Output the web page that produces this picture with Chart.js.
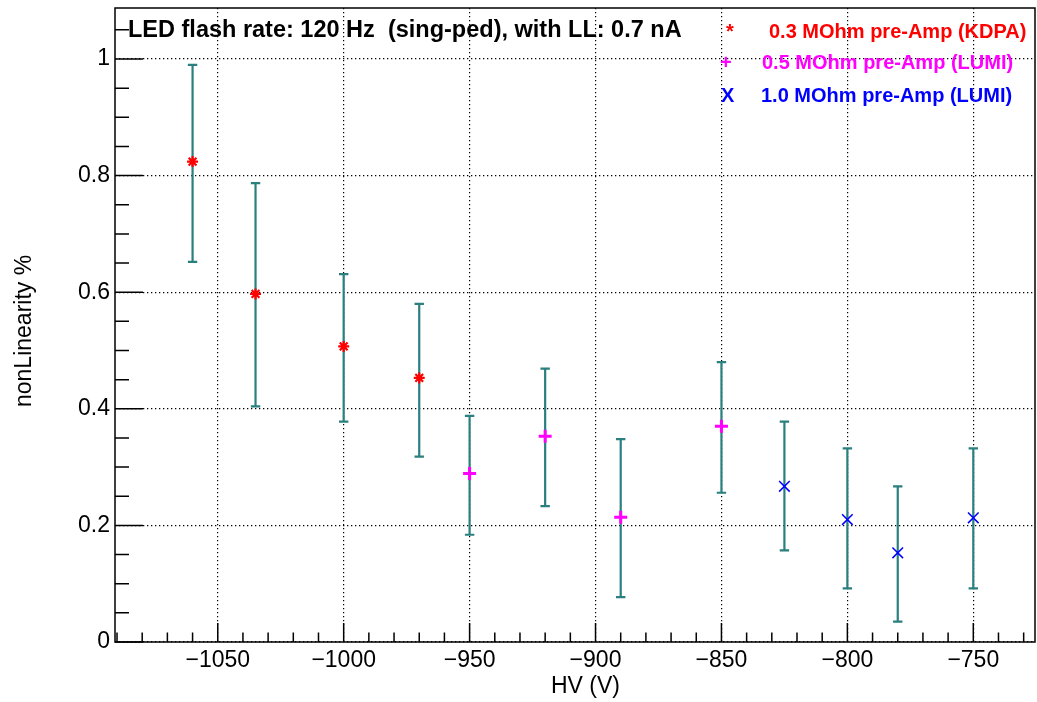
<!DOCTYPE html>
<html><head><meta charset="utf-8">
<script src="https://cdn.jsdelivr.net/npm/chart.js@4"></script>
<style>html,body{margin:0;padding:0;background:#fff;overflow:hidden;} canvas{display:block;}</style>
</head><body>
<canvas id="c" width="1037" height="702"></canvas>
<script>
// ---- data ----
const hvKDPA = [-1060, -1035, -1000, -970];
const nlKDPA = [0.824, 0.597, 0.507, 0.453];
const loKDPA = [0.652, 0.404, 0.378, 0.318];
const hiKDPA = [0.990, 0.787, 0.631, 0.580];

const hvLUMI05 = [-950, -920, -890, -850];
const nlLUMI05 = [0.289, 0.353, 0.214, 0.370];
const loLUMI05 = [0.184, 0.233, 0.077, 0.256];
const hiLUMI05 = [0.388, 0.469, 0.348, 0.480];

const hvLUMI10 = [-825, -800, -780, -750];
const nlLUMI10 = [0.267, 0.210, 0.153, 0.213];
const loLUMI10 = [0.157, 0.092, 0.035, 0.092];
const hiLUMI10 = [0.378, 0.332, 0.267, 0.332];

const xTickValues = [-1050, -1000, -950, -900, -850, -800, -750];
const xTickLabels = ['\u22121050', '\u22121000', '\u2212950', '\u2212900', '\u2212850', '\u2212800', '\u2212750'];
const yTickValues = [0, 0.2, 0.4, 0.6, 0.8, 1];
const yTickLabels = ['0', '0.2', '0.4', '0.6', '0.8', '1'];

const seriesNames = ['0.3 MOhm pre-Amp (KDPA)', '0.5 MOhm pre-Amp (LUMI)', '1.0 MOhm pre-Amp (LUMI)'];
const seriesSymbols = ['*', '+', 'X'];
const titleText = 'LED flash rate: 120 Hz  (sing-ped), with LL: 0.7 nA';
const xTitle = 'HV (V)';
const yTitle = 'nonLinearity %';

// ---- build datasets ----
function pts(xs, ys, lo, hi) { return xs.map((x, i) => ({x: x, y: ys[i], lo: lo[i], hi: hi[i]})); }

const FONT = '"Liberation Sans", Arial, Helvetica, sans-serif';
const TEAL = '#2a7f7f';

const errorBars = {
  id: 'errorBars',
  beforeDatasetsDraw(chart) {
    const {ctx, scales: {x, y}} = chart;
    ctx.save();
    ctx.strokeStyle = TEAL;
    ctx.lineWidth = 2.2;
    chart.data.datasets.forEach(ds => ds.data.forEach(p => {
      const px = x.getPixelForValue(p.x);
      const pl = y.getPixelForValue(p.lo);
      const ph = y.getPixelForValue(p.hi);
      ctx.beginPath();
      ctx.moveTo(px, pl); ctx.lineTo(px, ph);
      ctx.moveTo(px - 4.7, pl); ctx.lineTo(px + 4.7, pl);
      ctx.moveTo(px - 4.7, ph); ctx.lineTo(px + 4.7, ph);
      ctx.stroke();
    }));
    ctx.restore();
  }
};

const rootDecor = {
  id: 'rootDecor',
  afterDraw(chart) {
    const {ctx, chartArea: a, scales: {x, y}} = chart;
    ctx.save();
    // ticks
    ctx.strokeStyle = '#000';
    ctx.lineWidth = 1.5;
    ctx.beginPath();
    for (let v = Math.ceil(x.min / 10) * 10; v <= x.max; v += 10) {
      const px = x.getPixelForValue(v);
      const major = (Math.round(v) % 50 === 0);
      ctx.moveTo(px, a.bottom);
      ctx.lineTo(px, a.bottom - (major ? 19 : 9.5));
    }
    for (let k = 0; k * 0.05 <= y.max + 1e-9; k++) {
      const v = k * 0.05;
      const py = y.getPixelForValue(v);
      const major = (k % 4 === 0);
      ctx.moveTo(a.left, py);
      ctx.lineTo(a.left + (major ? 28 : 14), py);
    }
    ctx.stroke();
    // frame
    ctx.lineWidth = 1.5;
    ctx.strokeRect(a.left, a.top, a.right - a.left, a.bottom - a.top);

    // title
    ctx.fillStyle = '#000';
    ctx.textBaseline = 'alphabetic';
    ctx.textAlign = 'left';
    ctx.font = 'bold 23.5px ' + FONT;
    ctx.fillText(titleText, 128, 37);

    // legend
    const colors = ['#ff0000', '#ff00ff', '#0000ff'];
    const tx = [769, 762, 761];
    const ty = [38, 69, 102];
    const sx = [726, 720, 721];
    ctx.font = 'bold 20px ' + FONT;
    for (let i = 0; i < 3; i++) {
      ctx.fillStyle = colors[i];
      ctx.fillText(seriesSymbols[i], sx[i], ty[i]);
      ctx.fillText(seriesNames[i], tx[i], ty[i]);
    }

    // axis titles
    ctx.fillStyle = '#000';
    ctx.font = '23px ' + FONT;
    ctx.textAlign = 'right';
    ctx.fillText(xTitle, 620, 693);
    ctx.save();
    ctx.translate(31, 407);
    ctx.rotate(-Math.PI / 2);
    ctx.textAlign = 'left';
    ctx.fillText(yTitle, 0, 0);
    ctx.restore();
    ctx.restore();
  }
};

function noPad(s) { s.paddingTop = 0; s.paddingBottom = 0; s.paddingLeft = 0; s.paddingRight = 0; }

new Chart(document.getElementById('c'), {
  type: 'scatter',
  data: {
    datasets: [
      {label: seriesNames[0], data: pts(hvKDPA, nlKDPA, loKDPA, hiKDPA),
       pointStyle: 'star', pointRadius: 5.5, borderColor: '#ff0000', backgroundColor: '#ff0000', borderWidth: 2.2},
      {label: seriesNames[1], data: pts(hvLUMI05, nlLUMI05, loLUMI05, hiLUMI05),
       pointStyle: 'cross', pointRadius: 6.5, borderColor: '#ff00ff', backgroundColor: '#ff00ff', borderWidth: 3},
      {label: seriesNames[2], data: pts(hvLUMI10, nlLUMI10, loLUMI10, hiLUMI10),
       pointStyle: 'crossRot', pointRadius: 7.5, borderColor: '#0000ff', backgroundColor: '#0000ff', borderWidth: 1.5}
    ]
  },
  options: {
    responsive: false,
    animation: false,
    events: [],
    layout: {autoPadding: false, padding: {top: 8, right: 2, left: 0, bottom: 0}},
    plugins: {legend: {display: false}, tooltip: {enabled: false}, title: {display: false}},
    scales: {
      x: {
        type: 'linear', position: 'bottom', min: -1090.8, max: -725.5,
        afterBuildTicks: s => { s.ticks = xTickValues.map(v => ({value: v})); },
        afterFit: s => { s.height = 60; noPad(s); },
        ticks: {callback: (v, i) => xTickLabels[i], autoSkip: false, maxRotation: 0, padding: 5,
                color: '#000', font: {family: FONT, size: 23}},
        grid: {color: '#000', lineWidth: 1.2, drawTicks: false},
        border: {display: false, dash: [1.3, 2.7]}
      },
      y: {
        type: 'linear', position: 'left', min: 0, max: 1.0875,
        afterBuildTicks: s => { s.ticks = yTickValues.map(v => ({value: v})); },
        afterFit: s => { s.width = 115; noPad(s); },
        ticks: {callback: (v, i) => yTickLabels[i], autoSkip: false, padding: 5,
                color: '#000', font: {family: FONT, size: 23}},
        grid: {color: '#000', lineWidth: 1.2, drawTicks: false},
        border: {display: false, dash: [1.3, 2.7]}
      }
    }
  },
  plugins: [errorBars, rootDecor]
});
</script>
</body></html>
